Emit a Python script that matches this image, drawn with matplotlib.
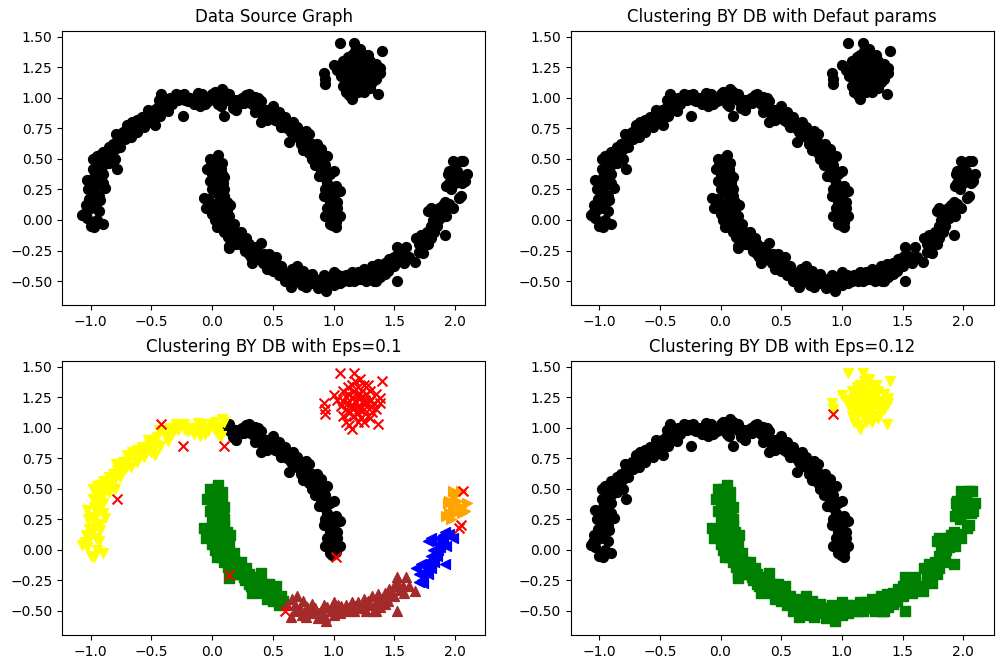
import matplotlib
matplotlib.use("Agg")
import matplotlib.pyplot as plt
import numpy as np

# ---- data ----
top_yellow = [(-1.07,0.04),(-1.05,0.06),(-1.03,0.02),(-1.01,0.09),(-1.0,-0.05),(-0.97,-0.06),(-0.95,0.0),
    (-0.93,0.07),(-0.9,-0.03),(-1.0,0.13),(-0.98,0.18),(-0.96,0.21),(-1.02,0.25),(-0.99,0.27),(-0.95,0.3),
    (-1.03,0.33),(-0.97,0.35),(-0.93,0.33),(-0.9,0.3),(-0.88,0.26),(-0.98,0.42),(-0.94,0.44),(-0.9,0.45),
    (-0.98,0.5),(-0.95,0.52),(-0.92,0.53),(-0.9,0.38),(-0.93,0.2),(-0.96,0.1),(-0.92,0.16),(-1.01,0.17),
    (-0.97,0.25),(-0.88,0.5),(-0.85,0.47),(-0.83,0.55),(-0.8,0.58),(-0.82,0.62),(-0.78,0.65),(-0.8,0.5),
    (-0.75,0.68),(-0.73,0.72),(-0.7,0.7),(-0.68,0.75),(-0.66,0.8),(-0.64,0.78),(-0.67,0.68),(-0.62,0.82),
    (-0.6,0.8),(-0.58,0.78),(-0.55,0.82),(-0.52,0.85),(-0.5,0.88),(-0.5,0.8),(-0.48,0.9),(-0.45,0.92),
    (-0.47,0.78),(-0.43,0.85),(-0.4,0.98),(-0.38,0.92),(-0.35,1.0),(-0.33,0.95),(-0.3,1.03),(-0.28,0.98),
    (-0.27,1.02),(-0.23,1.03),(-0.2,0.97),(-0.18,1.0),(-0.15,0.95),(-0.13,1.0),(-0.1,0.98),(-0.1,0.93),
    (-0.08,1.03),(-0.05,1.0),(-0.03,0.97),(0.0,1.03),(0.02,0.98),(0.05,0.95),(0.07,0.93),(0.08,1.07),
    (0.1,1.05),(0.04,1.01),(-0.36,0.89),(-0.56,0.76),(-0.72,0.66),(-0.85,0.6),(-0.76,0.6),
    (-1.04,0.12),(-0.94,0.38),(-0.86,0.55),(-0.9,0.56),(-0.7,0.78),(-0.62,0.72),(-0.53,0.9),(-0.44,0.98),
    (-0.32,0.98),(-0.22,0.98),(-0.12,1.04),(-0.06,0.95),(0.02,1.05),(0.06,1.0),(-0.46,0.86),(-0.58,0.84),
    (-0.79,0.7)]
top_black = [(0.12,1.0),(0.15,0.97),(0.17,0.92),(0.2,0.9),(0.22,0.95),(0.25,1.0),(0.28,1.02),(0.3,0.98),
    (0.32,1.0),(0.33,0.95),(0.35,1.01),(0.38,1.0),(0.4,0.97),(0.35,0.88),(0.4,0.8),(0.42,0.85),(0.45,0.9),
    (0.48,0.87),(0.5,0.85),(0.5,0.93),(0.52,0.82),(0.55,0.8),(0.55,0.88),(0.58,0.82),(0.6,0.78),(0.62,0.75),
    (0.65,0.72),(0.67,0.8),(0.68,0.7),(0.7,0.68),(0.72,0.72),(0.74,0.7),(0.75,0.65),(0.78,0.68),(0.8,0.7),
    (0.78,0.6),(0.75,0.57),(0.8,0.55),(0.82,0.5),(0.85,0.52),(0.88,0.55),(0.9,0.5),(0.87,0.45),(0.9,0.4),
    (0.93,0.45),(0.95,0.52),(0.92,0.35),(0.95,0.3),(0.97,0.38),(1.0,0.4),(0.98,0.25),(0.93,0.25),(1.0,0.2),
    (1.02,0.28),(1.05,0.24),(0.97,0.15),(1.0,0.1),(1.03,0.15),(0.95,0.1),(0.98,0.05),(1.02,0.05),(0.93,0.03),
    (1.0,0.0),(1.02,-0.02),(1.05,0.03),(0.97,-0.03),(0.26,0.96),(0.6,0.84),(0.7,0.76),(0.84,0.6),(0.86,0.62),
    (0.88,0.36),(0.92,0.2),(0.45,0.82),(0.63,0.64),(0.2,0.98),
    (0.14,1.03),(0.23,0.98),(0.3,1.03),(0.37,0.95),(0.43,0.9),(0.52,0.88),(0.57,0.76),(0.66,0.77),
    (0.73,0.62),(0.82,0.62),(0.85,0.45),(0.91,0.47),(0.94,0.4),(0.96,0.2),(1.03,0.1),(0.99,-0.04),
    (0.9,0.58),(0.77,0.73)]
top_noise = [(-0.78,0.42),(-0.42,1.03),(-0.24,0.85),(0.1,0.85),(1.02,-0.06)]

low_green = [(-0.02,0.5),(0.0,0.48),(0.02,0.5),(0.05,0.53),(0.03,0.45),(-0.01,0.45),(0.07,0.42),(0.05,0.4),
    (0.0,0.38),(0.03,0.35),(0.08,0.38),(0.05,0.3),(0.02,0.27),(0.0,0.25),(0.04,0.22),(0.07,0.25),(0.1,0.2),
    (-0.07,0.18),(-0.03,0.17),(0.05,0.15),(0.08,0.12),(0.12,0.15),(0.0,0.05),(0.03,0.08),(0.06,0.03),
    (0.1,0.05),(0.02,0.0),(0.05,-0.03),(0.08,0.0),(0.11,-0.02),(0.14,0.03),(0.07,-0.06),(0.1,-0.1),
    (0.13,-0.08),(0.15,-0.05),(0.18,-0.03),(0.2,-0.1),(0.14,-0.23),(0.18,-0.15),(0.22,-0.13),(0.23,-0.2),
    (0.25,-0.18),(0.28,-0.15),(0.3,-0.2),(0.27,-0.25),(0.3,-0.28),(0.33,-0.25),(0.35,-0.3),(0.33,-0.35),
    (0.38,-0.27),(0.4,-0.19),(0.4,-0.32),(0.42,-0.35),(0.45,-0.3),(0.47,-0.28),(0.48,-0.38),(0.5,-0.42),
    (0.52,-0.35),(0.53,-0.3),(0.55,-0.4),(0.57,-0.38),(0.05,0.45),(0.09,0.3),(0.12,0.08),(0.17,-0.08),
    (0.26,-0.22),(0.45,-0.4),(0.02,0.12),
    (-0.04,0.42),(0.08,0.47),(0.1,0.35),(-0.02,0.32),(0.1,0.25),(-0.05,0.1),(0.0,0.12),(0.15,0.12),
    (0.04,-0.06),(0.13,-0.14),(0.2,-0.2),(0.24,-0.1),(0.32,-0.3),(0.36,-0.22),(0.43,-0.28),(0.5,-0.33),
    (0.55,-0.45),(0.58,-0.42)]
low_brown = [(0.65,-0.55),(0.62,-0.45),(0.66,-0.4),(0.68,-0.45),(0.7,-0.38),(0.72,-0.48),(0.74,-0.53),
    (0.75,-0.42),(0.78,-0.47),(0.8,-0.5),(0.82,-0.44),(0.85,-0.48),(0.87,-0.56),(0.88,-0.52),(0.9,-0.5),
    (0.93,-0.55),(0.94,-0.58),(0.95,-0.47),(0.98,-0.5),(1.0,-0.43),(1.0,-0.53),(1.02,-0.48),(1.04,-0.45),
    (1.05,-0.52),(1.08,-0.5),(1.1,-0.45),(1.12,-0.48),(1.15,-0.43),(1.18,-0.46),(1.2,-0.43),(1.22,-0.48),
    (1.25,-0.4),(1.27,-0.5),(1.28,-0.42),(1.3,-0.45),(1.32,-0.38),(1.33,-0.5),(1.35,-0.43),(1.37,-0.36),
    (1.38,-0.47),(1.4,-0.4),(1.42,-0.35),(1.44,-0.38),(1.46,-0.32),(1.48,-0.35),(1.5,-0.3),(1.52,-0.5),
    (1.52,-0.22),(1.53,-0.28),(1.55,-0.33),(1.57,-0.3),(1.6,-0.22),(1.62,-0.3),(1.67,-0.34),(1.45,-0.42),
    (0.77,-0.55),(1.13,-0.5),
    (0.68,-0.5),(0.83,-0.52),(0.92,-0.45),(1.06,-0.46),(1.17,-0.5),(1.24,-0.45),(1.35,-0.5),(1.42,-0.44),
    (1.5,-0.38),(1.58,-0.35)]
low_blue = [(1.7,-0.26),(1.68,-0.15),(1.7,-0.2),(1.72,-0.12),(1.73,-0.25),(1.75,-0.18),(1.77,-0.1),
    (1.78,-0.2),(1.8,-0.15),(1.8,-0.05),(1.82,0.0),(1.83,-0.1),(1.85,0.05),(1.87,0.1),(1.88,0.02),(1.9,0.08),
    (1.92,-0.12),(1.78,0.07),(1.8,0.1),(1.92,0.15),(1.98,0.1),(1.74,-0.27),(1.85,-0.05),(1.93,0.03),
    (1.72,-0.2),(1.76,-0.14),(1.82,-0.08),(1.86,0.0),(1.9,0.12),(1.95,0.13)]
low_orange = [(1.93,0.28),(1.95,0.3),(1.97,0.25),(1.98,0.35),(2.0,0.3),(2.0,0.45),(1.98,0.48),(2.02,0.4),
    (2.05,0.35),(2.05,0.48),(2.1,0.38),(2.08,0.32),(2.06,0.3),(1.94,0.38),(1.95,0.4)]
low_noise = [(0.14,-0.21),(0.6,-0.5),(2.07,0.48),(2.03,0.18),(2.05,0.2)]

blob_main = [(1.05,1.45),(1.17,1.45),(1.22,1.4),(1.4,1.38),(1.08,1.3),(1.12,1.28),(1.15,1.35),(1.2,1.33),
    (1.25,1.35),(1.3,1.3),(1.35,1.28),(1.0,1.27),(1.03,1.23),(0.92,1.2),(0.93,1.15),(1.08,1.22),(1.12,1.2),
    (1.15,1.25),(1.18,1.22),(1.2,1.18),(1.23,1.25),(1.27,1.2),(1.3,1.22),(1.33,1.2),(1.38,1.2),(1.38,1.24),
    (1.1,1.15),(1.13,1.12),(1.17,1.1),(1.2,1.12),(1.25,1.15),(1.28,1.1),(1.32,1.13),(1.35,1.15),(1.08,1.1),
    (1.1,1.05),(1.13,1.02),(1.15,0.99),(1.2,1.05),(1.25,1.05),(1.3,1.08),(1.37,1.03),(1.22,1.28),(1.17,1.3),
    (1.27,1.28),(1.12,1.33),(1.24,1.2),(1.16,1.18),(1.06,1.18),
    (1.1,1.25),(1.19,1.27),(1.26,1.23),(1.21,1.15),(1.14,1.17),(1.31,1.17),(1.23,1.08),(1.18,1.38),
    (1.28,1.35)]
blob_outlier = [(0.93,1.11)]

titles = ["Data Source Graph", "Clustering BY DB with Defaut params",
          "Clustering BY DB with Eps=0.1", "Clustering BY DB with Eps=0.12"]

def arr(*groups):
    pts = [p for g in groups for p in g]
    return np.array(pts)

all_pts = arr(top_yellow, top_black, top_noise, low_green, low_brown, low_blue,
              low_orange, low_noise, blob_main, blob_outlier)

# groups per panel: (points, color, marker)
eps01 = [
    (arr(top_black), 'black', 'o'),
    (arr(top_yellow), 'yellow', 'v'),
    (arr(low_green), 'green', 's'),
    (arr(low_brown), 'brown', '^'),
    (arr(low_blue), 'blue', '<'),
    (arr(low_orange), 'orange', '>'),
    (arr(top_noise, low_noise, blob_main, blob_outlier), 'red', 'x'),
]
eps012 = [
    (arr(top_yellow, top_black, top_noise), 'black', 'o'),
    (arr(low_green, low_brown, low_blue, low_orange, low_noise), 'green', 's'),
    (arr(blob_main), 'yellow', 'v'),
    (arr(blob_outlier), 'red', 'x'),
]

MS = 50

fig = plt.figure(figsize=(10.02, 6.68), dpi=100)
W, H = 1002, 668
boxes = [(62.3, 30.7, 485.3, 305.0), (570.7, 30.7, 993.7, 305.0),
         (62.3, 360.7, 485.3, 634.8), (570.7, 360.7, 993.7, 634.8)]
axes = []
for (x0, y0, x1, y1) in boxes:
    axes.append(fig.add_axes([x0 / W, 1 - y1 / H, (x1 - x0) / W, (y1 - y0) / H]))

axes[0].scatter(all_pts[:, 0], all_pts[:, 1], c='black', s=MS)
axes[1].scatter(all_pts[:, 0], all_pts[:, 1], c='black', s=MS)
for pts, col, mk in eps01:
    axes[2].scatter(pts[:, 0], pts[:, 1], c=col, marker=mk, s=MS)
for pts, col, mk in eps012:
    axes[3].scatter(pts[:, 0], pts[:, 1], c=col, marker=mk, s=MS)

for ax, t in zip(axes, titles):
    ax.set_title(t)
    ax.set_xlim(-1.234, 2.25)
    ax.set_ylim(-0.696, 1.549)
    ax.set_xticks([-1.0, -0.5, 0.0, 0.5, 1.0, 1.5, 2.0])
    ax.set_yticks([-0.5, -0.25, 0.0, 0.25, 0.5, 0.75, 1.0, 1.25, 1.5])

fig.savefig("out.png", dpi=100)
